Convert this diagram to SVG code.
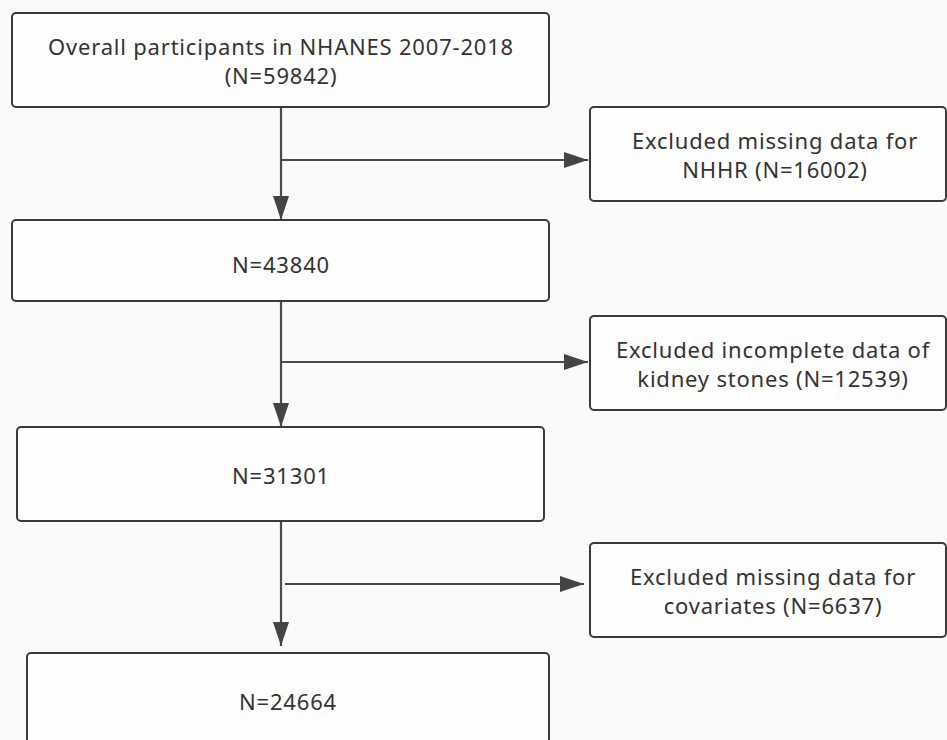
<svg xmlns="http://www.w3.org/2000/svg" width="947" height="740" viewBox="0 0 947 740">
<defs>
<marker id="ah" markerUnits="userSpaceOnUse" markerWidth="26" markerHeight="18" refX="24" refY="9" orient="auto">
<path d="M0,1 L24,9 L0,17 Z" fill="#444"/>
</marker>
<style>
.box{fill:#fefefe;stroke:#3a3a3a;stroke-width:2}
.t{font-family:"Noto Sans","Open Sans",sans-serif;font-size:22px;letter-spacing:0.8px;fill:#333;text-anchor:middle}
.ln{stroke:#4a4a4a;stroke-width:2.2;fill:none}
</style>
</defs>
<rect width="947" height="740" fill="#fafafa"/>
<g id="connectors">
<path class="ln" d="M281,107 V220" marker-end="url(#ah)"/>
<path class="ln" d="M281,160 H588" marker-end="url(#ah)"/>
<path class="ln" d="M281,301 V427" marker-end="url(#ah)"/>
<path class="ln" d="M281,362 H588" marker-end="url(#ah)"/>
<path class="ln" d="M281,521 V646" marker-end="url(#ah)"/>
<path class="ln" d="M285,584 H584" marker-end="url(#ah)"/>
</g>
<g id="n1">
<rect class="box" x="12" y="13" width="537" height="94" rx="4"/>
<text class="t" x="281" y="55">Overall participants in NHANES 2007-2018</text>
<text class="t" x="281" y="84">(N=59842)</text>
</g>
<g id="e1">
<rect class="box" x="590" y="107" width="356" height="94" rx="4"/>
<text class="t" x="775" y="149">Excluded missing data for</text>
<text class="t" x="775" y="178">NHHR (N=16002)</text>
</g>
<g id="n2">
<rect class="box" x="12" y="220" width="537" height="81" rx="4"/>
<text class="t" x="281" y="273">N=43840</text>
</g>
<g id="e2">
<rect class="box" x="590" y="316" width="356" height="94" rx="4"/>
<text class="t" x="773" y="358">Excluded incomplete data of</text>
<text class="t" x="773" y="387">kidney stones (N=12539)</text>
</g>
<g id="n3">
<rect class="box" x="17" y="427" width="527" height="94" rx="4"/>
<text class="t" x="281" y="484">N=31301</text>
</g>
<g id="e3">
<rect class="box" x="590" y="543" width="356" height="94" rx="4"/>
<text class="t" x="773" y="585">Excluded missing data for</text>
<text class="t" x="773" y="614">covariates (N=6637)</text>
</g>
<g id="n4">
<rect class="box" x="27" y="653" width="522" height="100" rx="4"/>
<text class="t" x="288" y="710">N=24664</text>
</g>
</svg>
